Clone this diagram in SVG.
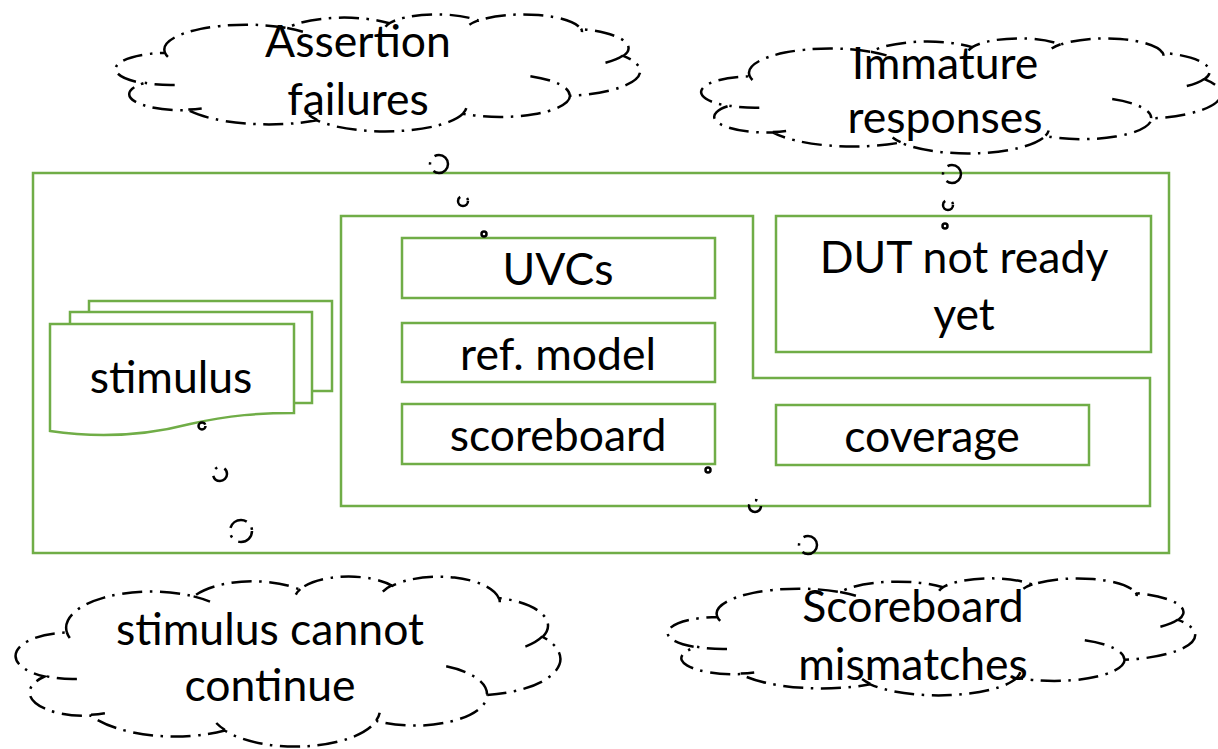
<svg xmlns="http://www.w3.org/2000/svg" width="1218" height="749" viewBox="0 0 1218 749">
<style>
.g{fill:none;stroke:#70AD47;stroke-width:2.5}
.gw{fill:#fff;stroke:#70AD47;stroke-width:2.5}
.cl{fill:none;stroke:#000;stroke-width:2.5;stroke-dasharray:20 7.5 2.5 7.5}
.t{font-family:Lato,"Liberation Sans",sans-serif;font-size:44.5px;fill:#000;text-anchor:middle}
</style>
<g id="container">
<rect class="g" x="33" y="173" width="1136" height="380"/>
<path class="g" d="M341,216 H753 V378 H1150 V506 H341 Z"/>
</g>
<g id="stimulus">
<rect class="gw" x="89" y="301" width="243" height="90"/>
<rect class="gw" x="70" y="312" width="242" height="91"/>
<path class="gw" d="M50,324 H294 V413 C260,413 230,415 190,424 C140,437 90,437 50,431 Z"/>
<text class="t" x="171" y="393">stimulus</text>
</g>
<g id="uvcs"><rect class="g" x="402" y="238" width="313" height="60"/><text class="t" x="558" y="285">UVCs</text></g>
<g id="refmodel"><rect class="g" x="402" y="323" width="313" height="59"/><text class="t" x="558" y="370">ref. model</text></g>
<g id="scoreboard"><rect class="g" x="402" y="404" width="313" height="60"/><text class="t" x="558" y="451">scoreboard</text></g>
<g id="dut"><rect class="g" x="776" y="216" width="375" height="136"/><text class="t" x="964" y="273">DUT not ready</text><text class="t" x="964" y="330">yet</text></g>
<g id="coverage"><rect class="g" x="776" y="405" width="313" height="60"/><text class="t" x="932" y="452">coverage</text></g>
<g id="cloud-assertion">
<path class="cl" d="M165.1,52.9 A81.6,24.89 0 0 1 287.2,28.1 A64.4,19.68 0 0 1 389.4,23.3 A52.7,16.1 0 0 1 478.5,20.7 A58.7,17.86 0 0 1 581,29.1 A64.4,19.7 0 0 1 623.3,55.9 A81.9,24.97 0 0 1 570,95.8 A69.9,21.3 0 0 1 463,113.7 A81.6,24.95 0 0 1 317.1,120.3 A93.3,28.55 0 0 1 188.1,110.1 A52.7,16.03 0 0 1 143.5,83.2 A52.5,16.1 0 0 1 165.1,52.9 Z M174.7,84.9 A52.5,16.1 0 0 1 144.1,82.7 M201.7,108.5 A52.7,16.03 0 0 1 188.3,109.5 M317.1,119.9 A81.6,24.95 0 0 1 309,115.1 M466.3,108.1 A81.6,24.95 0 0 1 463.1,113.3 M530.4,76.2 A69.9,21.3 0 0 1 569.7,95.5 M623,55.6 A64.4,19.7 0 0 1 605.5,62.8 M581.1,28.7 A58.7,17.86 0 0 1 582,32.1 M469.4,24.7 A58.7,17.86 0 0 1 478.3,20.3 M385.5,26.8 A52.7,16.1 0 0 1 389.9,23 M287.2,28.1 A81.6,24.89 0 0 1 302.9,31.7 M167.9,56.8 A81.6,24.89 0 0 1 165.1,52.9"/>
<text class="t" x="358" y="57">Assertion</text><text class="t" x="358" y="115">failures</text>
</g>
<g id="cloud-immature">
<path class="cl" d="M749.8,76.3 A80.98,24.46 0 0 1 870.9,51.8 A63.95,19.34 0 0 1 972.3,47.1 A52.34,15.83 0 0 1 1060.7,44.6 A58.24,17.56 0 0 1 1162.5,52.8 A63.95,19.36 0 0 1 1204.4,79.2 A81.24,24.54 0 0 1 1151.5,118.4 A69.37,20.94 0 0 1 1045.4,136 A80.96,24.53 0 0 1 900.6,142.5 A92.57,28.07 0 0 1 772.6,132.4 A52.28,15.75 0 0 1 728.3,106 A52.1,15.83 0 0 1 749.8,76.3 Z M759.3,107.7 A52.1,15.83 0 0 1 728.9,105.6 M786.1,130.9 A52.28,15.75 0 0 1 772.8,131.9 M900.6,142.1 A80.96,24.53 0 0 1 892.6,137.4 M1048.7,130.5 A80.96,24.53 0 0 1 1045.5,135.6 M1112.2,99.1 A69.37,20.94 0 0 1 1151.2,118.1 M1204.2,78.9 A63.95,19.36 0 0 1 1186.8,86 M1162.5,52.4 A58.24,17.56 0 0 1 1163.5,55.8 M1051.7,48.5 A58.24,17.56 0 0 1 1060.6,44.2 M968.5,50.6 A52.34,15.83 0 0 1 972.8,46.9 M870.9,51.8 A80.98,24.46 0 0 1 886.5,55.4 M752.5,80 A80.98,24.46 0 0 1 749.8,76.3"/>
<text class="t" x="945" y="79">Immature</text><text class="t" x="945" y="133">responses</text>
</g>
<g id="cloud-stimulus">
<path class="cl" d="M66.9,632.5 A84.72,36.16 0 0 1 193.7,596.5 A66.91,28.6 0 0 1 299.7,589.5 A54.76,23.39 0 0 1 392.3,585.8 A60.94,25.95 0 0 1 498.7,598 A66.91,28.62 0 0 1 542.7,636.8 A85,36.28 0 0 1 487.3,694.9 A72.58,30.96 0 0 1 376.3,720.9 A84.71,36.26 0 0 1 224.8,730.5 A96.85,41.49 0 0 1 90.8,715.6 A54.7,23.29 0 0 1 44.5,676.5 A54.51,23.39 0 0 1 66.9,632.5 Z M76.9,679 A54.51,23.39 0 0 1 45.1,675.9 M104.9,713.3 A54.7,23.29 0 0 1 91,714.8 M224.7,729.8 A84.71,36.26 0 0 1 216.3,723 M379.7,712.7 A84.71,36.26 0 0 1 376.3,720.3 M446.2,666.3 A72.58,30.96 0 0 1 487,694.4 M542.4,636.4 A66.91,28.62 0 0 1 524.2,647 M498.8,597.4 A60.94,25.95 0 0 1 499.8,602.3 M382.8,591.6 A60.94,25.95 0 0 1 392.1,585.2 M295.8,594.6 A54.76,23.39 0 0 1 300.3,589.1 M193.6,596.4 A84.72,36.16 0 0 1 210,601.7 M69.8,638.1 A84.72,36.16 0 0 1 66.9,632.5"/>
<text class="t" x="270" y="645">stimulus cannot</text><text class="t" x="270" y="701">continue</text>
</g>
<g id="cloud-scoreboard">
<path class="cl" d="M717.4,616.9 A82.07,24.89 0 0 1 840.2,592.1 A64.81,19.68 0 0 1 942.9,587.3 A53.05,16.1 0 0 1 1032.6,584.7 A59.03,17.86 0 0 1 1135.7,593.1 A64.81,19.7 0 0 1 1178.2,619.9 A82.34,24.97 0 0 1 1124.6,659.8 A70.31,21.3 0 0 1 1017,677.7 A82.06,24.95 0 0 1 870.3,684.3 A93.82,28.55 0 0 1 740.5,674.1 A52.99,16.03 0 0 1 695.7,647.2 A52.8,16.1 0 0 1 717.4,616.9 Z M727,648.9 A52.8,16.1 0 0 1 696.3,646.7 M754.2,672.5 A52.99,16.03 0 0 1 740.7,673.5 M870.3,683.9 A82.06,24.95 0 0 1 862.1,679.1 M1020.3,672.1 A82.06,24.95 0 0 1 1017.1,677.3 M1084.8,640.2 A70.31,21.3 0 0 1 1124.3,659.5 M1178,619.6 A64.81,19.7 0 0 1 1160.4,626.8 M1135.8,592.7 A59.03,17.86 0 0 1 1136.7,596.1 M1023.4,588.7 A59.03,17.86 0 0 1 1032.4,584.3 M939.1,590.8 A53.05,16.1 0 0 1 943.4,587 M840.1,592.1 A82.07,24.89 0 0 1 855.9,595.7 M720.2,620.8 A82.07,24.89 0 0 1 717.4,616.9"/>
<text class="t" x="913" y="622">Scoreboard</text><text class="t" x="913" y="680">mismatches</text>
</g>
<g id="connectors">
<circle class="cl" cx="439" cy="164" r="9"/><circle class="cl" cx="463" cy="201" r="5"/><circle class="cl" cx="484" cy="234" r="2.5"/>
<circle class="cl" cx="952" cy="174" r="9"/><circle class="cl" cx="948" cy="205" r="5"/><circle class="cl" cx="945" cy="226" r="2.5"/>
<circle class="cl" cx="241" cy="531" r="11"/><circle class="cl" cx="220" cy="474" r="7"/><circle class="cl" cx="202" cy="426" r="3.5"/>
<circle class="cl" cx="808" cy="545" r="9"/><circle class="cl" cx="755" cy="506" r="6"/><circle class="cl" cx="708" cy="470" r="2.5"/>
</g>
</svg>
